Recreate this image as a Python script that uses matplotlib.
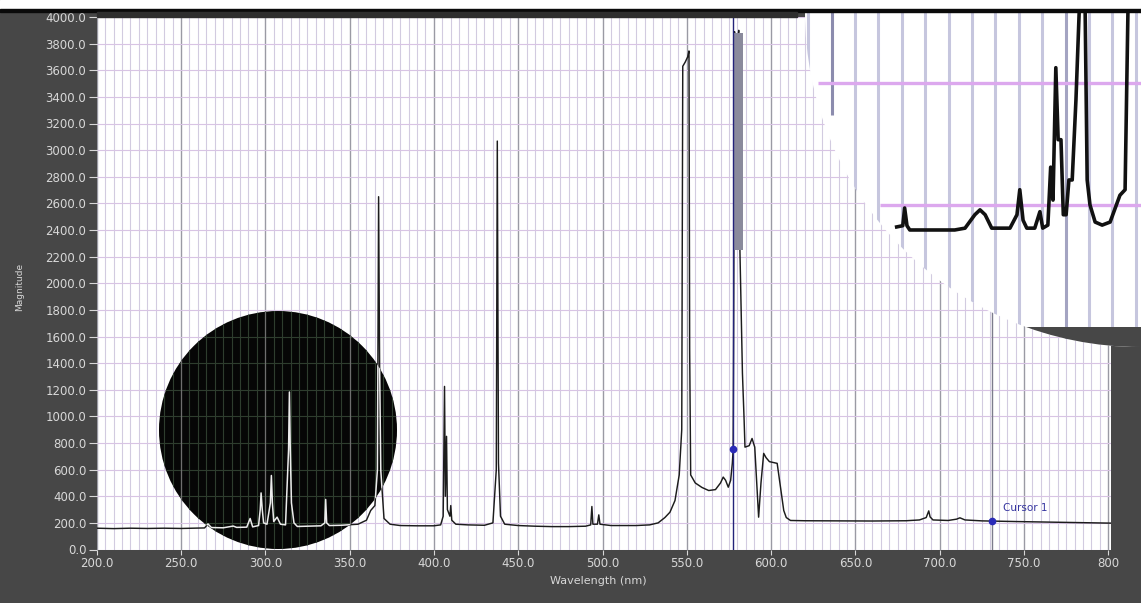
import matplotlib
matplotlib.use('Agg')
import matplotlib.pyplot as plt
import numpy as np
from matplotlib.patches import Circle, Rectangle

# spectrum (wavelength nm / magnitude)
wavelength = [200, 210, 220, 230, 240, 250, 258, 264, 266, 268, 275, 281, 283, 289, 291, 292.5,
              296, 297, 297.5, 298.2, 299, 301, 303, 303.6, 304.2, 305, 307, 309, 312, 313.8, 314.3,
              314.8, 315.5, 317, 319, 325, 333, 335.3, 335.8, 336.4, 338, 345, 355, 360, 362.5, 365,
              366.5, 367.2, 367.8, 368.5, 370.4, 374, 380, 390, 400, 404, 405.5, 406.3, 406.8, 407.5,
              408, 409.5, 410, 410.6, 413, 420, 430, 435, 437, 437.6, 438.3, 439.5, 442, 450, 460,
              470, 480, 490, 493, 493.7, 494.3, 497, 497.8, 498.5, 505, 520, 528, 533, 537, 540, 543,
              545.5, 547, 547.6, 549, 550.5, 551.3, 551.7, 552.3, 555, 559, 563, 567, 570, 571.6, 573,
              574.6, 576, 577, 577.5, 577.8, 578.3, 579, 579.5, 580.3, 580.8, 581.5, 583, 584, 584.5,
              587, 588.7, 590.3, 591.5, 592.6, 594, 595.6, 597, 599, 603.6, 605.6, 607.5, 609, 611.5,
              620, 640, 660, 680, 688, 692, 693.5, 694.3, 696, 705, 710, 712, 715, 725, 732, 745,
              760, 780, 801.6]
magnitude = [160, 157, 160, 158, 160, 158, 160, 162, 192, 165, 163, 176, 166, 168, 233, 170,
             180, 300, 425, 300, 200, 190, 350, 556, 350, 210, 243, 190, 185, 750, 1183,
             760, 350, 200, 173, 175, 178, 200, 376, 200, 180, 182, 190, 220, 293, 330,
             600, 2650, 1380, 594, 233, 190, 180, 178, 178, 185, 250, 1225, 400, 850,
             300, 250, 330, 220, 190, 185, 182, 200, 600, 3068, 650, 250, 190, 180, 175,
             172, 172, 175, 185, 323, 190, 190, 260, 190, 180, 180, 185, 200, 240, 280, 368,
             560, 900, 3630, 3660, 3700, 3745, 1500, 560, 500, 466, 443, 450, 500, 544, 520,
             468, 520, 647, 752, 1700, 3890, 3750, 3600, 3850, 3900, 2250, 1323, 970, 769,
             780, 834, 769, 500, 243, 500, 722, 690, 660, 647, 468, 293, 240, 218,
             216, 215, 214, 216, 222, 240, 290, 245, 222, 218, 228, 238, 222, 215, 213, 210,
             207, 203, 198]

# saturated region of the 577/579 doublet
band_wl = [577.7, 583.4]
band_lo = [2250, 2250]
band_hi = [3880, 3880]

cursor0_wl, cursor0_mag = 577.5, 752
cursor1_wl, cursor1_mag = 731.0, 213

# magnified view in the top right corner
zoom_wl = [563.9, 565.2, 565.6, 566.1, 566.7, 576.3, 578.5, 580.6, 581.7, 582.8, 584.2, 588.1,
           589.6, 590.2, 590.9, 591.7, 593.4, 594.5, 595.1, 596.2, 596.8, 597.3, 597.9, 598.4,
           599.0, 599.5, 600.1, 600.7, 601.4, 602.2, 603.1, 604.1, 604.6, 605.2, 606.3, 607.8,
           609.5, 611.6, 612.7, 613.4, 616.5]
zoom_mag = [164, 166, 195, 166, 159, 159, 162, 184, 192, 184, 162, 162,
            184, 225, 175, 162, 162, 189, 162, 167, 262, 208, 425, 307,
            307, 184, 184, 241, 241, 372, 560, 560, 241, 200, 172, 167,
            172, 216, 225, 560, 560]

x_ticks = np.arange(200, 801, 50)
x_labels = ['%.1f' % v for v in x_ticks[:-1]] + ['800']
y_ticks = np.arange(0, 4001, 200)

FRAME = '#474747'
W, H = 1141, 603

fig = plt.figure(figsize=(W / 100, H / 100), dpi=100, facecolor=FRAME)

# top strip
fig.patches.append(Rectangle((0, (H - 9) / H), 1, 9 / H, transform=fig.transFigure, color='white'))
fig.patches.append(Rectangle((0, (H - 12) / H), 1, 3 / H, transform=fig.transFigure, color='#0a0a0a'))
fig.patches.append(Rectangle((97 / W, (H - 16.5) / H), 700 / W, 5 / H, transform=fig.transFigure,
                             color='#2e2e2e'))

ax = fig.add_axes([96.7 / W, (H - 549.5) / H, 1014.3 / W, 532.5 / H])
ax.set_facecolor('white')
ax.set_xlim(200, 801.6)
ax.set_ylim(0, 4000)
ax.set_xticks(x_ticks)
ax.set_xticklabels(x_labels)
ax.set_xticks(np.arange(200, 802, 5), minor=True)
ax.set_yticks(y_ticks)
ax.set_yticklabels(['%.1f' % v for v in y_ticks])
ax.set_axisbelow(True)
ax.grid(which='minor', axis='x', color='#d2cbe0', lw=0.8)
ax.grid(which='major', axis='x', color='#9a9aa4', lw=1.0)
ax.grid(which='major', axis='y', color='#d8c4e4', lw=0.8)
ax.tick_params(which='minor', length=0)
ax.tick_params(axis='both', colors='#d8d8d8', labelsize=8.5, direction='out')
ax.tick_params(axis='y', length=6, pad=1.5)
ax.tick_params(axis='x', length=3.5, pad=2)
for s in ax.spines.values():
    s.set_visible(False)

ax.plot(wavelength, magnitude, color='#1c1c1c', lw=1.05, zorder=2)
ax.fill_between(band_wl, band_lo, band_hi, color='#8a8a9c', lw=0, zorder=2)

# cursors
ax.axvline(cursor0_wl, color='#23237a', lw=1.0, zorder=2.5)
ax.plot(cursor0_wl, cursor0_mag, 'o', color='#2a2ab8', ms=4.5, zorder=2.6)
ax.axvline(cursor1_wl, color='#7c7c8c', lw=1.0, zorder=2.5)
ax.plot(cursor1_wl, cursor1_mag, 'o', color='#2a2ab8', ms=4.5, zorder=2.6)
ax.text(737.5, 312, 'Cursor 1', color='#3535a0', fontsize=7.5, va='center')

# black lens over the UV lines
lens_c, lens_r = (2.78, 1.73), 1.19
ax.add_patch(Circle(lens_c, lens_r, transform=fig.dpi_scale_trans, fc='#060606', ec='none', zorder=3))
lens_clip = Circle(lens_c, lens_r, transform=fig.dpi_scale_trans)
g = ax.vlines(np.arange(200, 802, 5), 0, 4000, colors='#2e3d2e', lw=0.8, zorder=4)
g.set_clip_path(lens_clip)
g = ax.hlines(y_ticks, 200, 801.6, colors='#2e3d2e', lw=0.8, zorder=4)
g.set_clip_path(lens_clip)
g = ax.vlines(x_ticks, 0, 4000, colors='#6e6e6e', lw=0.9, zorder=4)
g.set_clip_path(lens_clip)
ln, = ax.plot(wavelength, magnitude, color='#ececec', lw=1.1, zorder=5)
ln.set_clip_path(lens_clip)

# magnifier top right
ax_in = fig.add_axes([797 / W, (H - 347) / H, (W - 797) / W, (347 - 12) / H])
ax_in.set_xlim(542.6, 616.1)
ax_in.set_ylim(-32.8, 516.3)
ax_in.axis('off')
mag_c, mag_r = (11.40, (H - 12) / 100), 3.35
ax_in.add_patch(Circle(mag_c, mag_r, transform=fig.dpi_scale_trans, fc='white', ec='none', zorder=0))
mag_clip = Circle(mag_c, mag_r, transform=fig.dpi_scale_trans)
arts = []
arts.append(ax_in.vlines([v for v in range(545, 616, 5) if v not in (550, 600)], -40, 600,
                         colors='#c6c6de', lw=2.2, zorder=1))
arts.append(ax_in.vlines([550], 347, 600, colors='#8c8cae', lw=2.2, zorder=1))
arts.append(ax_in.vlines([600], -40, 600, colors='#a4a4c2', lw=2.2, zorder=1))
arts.append(ax_in.hlines([400], 547, 617, colors='#dca8ee', lw=2.4, zorder=1.5))
arts.append(ax_in.hlines([200], 560.3, 617, colors='#dca8ee', lw=2.4, zorder=1.5))
arts.append(ax_in.axhspan(-40, 0, color=FRAME, lw=0, zorder=2))
arts += ax_in.plot(zoom_wl, zoom_mag, color='#111111', lw=2.6, zorder=3)
for a in arts:
    a.set_clip_path(mag_clip)

fig.text(20 / W, 1 - 287 / H, 'Magnitude', rotation=90, color='#d8d8d8', fontsize=6.5,
         ha='center', va='center')
fig.text(598 / W, 1 - 581 / H, 'Wavelength (nm)', color='#d8d8d8', fontsize=8,
         ha='center', va='center')

fig.savefig('out.png', dpi=100, facecolor=FRAME)
